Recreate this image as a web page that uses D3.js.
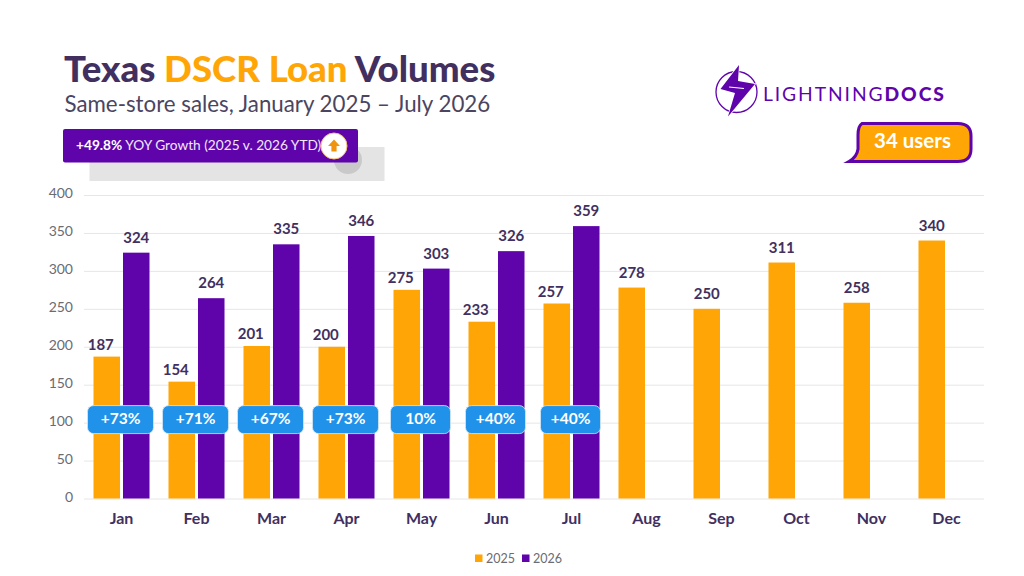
<!DOCTYPE html>
<html>
<head>
<meta charset="utf-8">
<script src="https://cdn.jsdelivr.net/npm/d3@7"></script>
<style>
  html, body { margin: 0; padding: 0; background: #fff; }
  svg { display: block; }
  svg, svg text { font-family: Lato, sans-serif; }
</style>
</head>
<body>
<svg id="chart" width="1024" height="576"></svg>
<script>
const months = ['Jan', 'Feb', 'Mar', 'Apr', 'May', 'Jun', 'Jul', 'Aug', 'Sep', 'Oct', 'Nov', 'Dec'];
const values2025 = [187, 154, 201, 200, 275, 233, 257, 278, 250, 311, 258, 340];
const values2026 = [324, 264, 335, 346, 303, 326, 359];
const growthLabels = ['+73%', '+71%', '+67%', '+73%', '10%', '+40%', '+40%'];
const yTicks = [0, 50, 100, 150, 200, 250, 300, 350, 400];

const ORANGE = '#ffa505';
const PURPLE = '#5f03ab';
const DARK = '#41305f';
const BLUE = '#2092ea';

const svg = d3.select('#chart');
const x = d3.scaleBand().domain(months).range([84, 984]);
const y = d3.scaleLinear().domain([0, 400]).range([498.5, 195]);

// grid + y labels
const yAxis = svg.append('g')
  .attr('transform', 'translate(84,0)')
  .call(d3.axisLeft(y).tickValues(yTicks).tickSize(-900).tickPadding(11));
yAxis.attr('font-family', null);
yAxis.select('.domain').remove();
yAxis.selectAll('line').attr('stroke', '#e6e6e9');
yAxis.selectAll('text').attr('fill', '#6b6b72').attr('font-size', 14).attr('dy', '0.2em');

const barW = 26.5;
const center = (m) => x(m) + x.bandwidth() / 2;

svg.append('g').selectAll('rect').data(values2025).enter().append('rect')
  .attr('x', (d, i) => center(months[i]) - barW - 1.5)
  .attr('y', (d) => y(d))
  .attr('width', barW)
  .attr('height', (d) => y(0) - y(d))
  .attr('fill', ORANGE);

svg.append('g').selectAll('rect').data(values2026).enter().append('rect')
  .attr('x', (d, i) => center(months[i]) + 1.5)
  .attr('y', (d) => y(d))
  .attr('width', barW)
  .attr('height', (d) => y(0) - y(d))
  .attr('fill', PURPLE);

// value labels
const labelStyle = (sel) => sel
  .attr('text-anchor', 'middle')
  .attr('font-size', 15)
  .attr('font-weight', 700)
  .attr('fill', DARK);

// paired 2025 labels sit a bit left of their bars so they clear the 2026 bar
svg.append('g').selectAll('text').data(values2025).enter().append('text')
  .attr('x', (d, i) => center(months[i]) - barW / 2 - 1.5 - (i < values2026.length ? 6 : 0))
  .attr('y', (d, i) => y(d) - (i < values2026.length ? 7 : 10))
  .text((d) => d)
  .call(labelStyle);

svg.append('g').selectAll('text').data(values2026).enter().append('text')
  .attr('x', (d, i) => center(months[i]) + barW / 2 + 1.5)
  .attr('y', (d) => y(d) - 10)
  .text((d) => d)
  .call(labelStyle);

// growth pills
const pillW = (i) => (i < 4 ? 66 : 60);
const pills = svg.append('g').selectAll('g').data(growthLabels).enter().append('g')
  .attr('transform', (d, i) => `translate(${center(months[i]) - 1},${y(104)})`);
pills.append('rect')
  .attr('x', (d, i) => -pillW(i) / 2).attr('y', -14)
  .attr('width', (d, i) => pillW(i)).attr('height', 28).attr('rx', 6)
  .attr('fill', BLUE).attr('stroke', '#d5e9f8').attr('stroke-width', 0.8);
pills.append('text')
  .attr('text-anchor', 'middle').attr('y', 4)
  .attr('font-size', 15.5).attr('font-weight', 700).attr('fill', '#fff')
  .text((d) => d);

// month labels
const xAxis = svg.append('g')
  .attr('transform', `translate(0,${y(0)})`)
  .call(d3.axisBottom(x).tickSize(0).tickPadding(14));
xAxis.attr('font-family', null);
xAxis.select('.domain').remove();
xAxis.selectAll('text').attr('fill', DARK).attr('font-size', 16).attr('font-weight', 700);

// legend
const legend = svg.append('g').attr('transform', 'translate(475,553)');
legend.append('rect').attr('width', 7.5).attr('height', 7.5).attr('y', 1.5).attr('fill', ORANGE);
legend.append('text').attr('x', 11).attr('y', 9.5).attr('font-size', 12.5).attr('fill', '#6b6b72').text('2025');
legend.append('rect').attr('x', 47).attr('y', 1.5).attr('width', 7.5).attr('height', 7.5).attr('fill', PURPLE);
legend.append('text').attr('x', 58).attr('y', 9.5).attr('font-size', 12.5).attr('fill', '#6b6b72').text('2026');

// title block
const title = svg.append('text').attr('x', 64).attr('y', 82)
  .attr('font-size', 36.6).attr('font-weight', 900).attr('fill', DARK);
title.append('tspan').text('Texas ');
title.append('tspan').attr('fill', ORANGE).text('DSCR Loan');
title.append('tspan').text(' Volumes');

svg.append('text').attr('x', 64.5).attr('y', 112)
  .attr('font-size', 22.3).attr('fill', '#4b4560')
  .text('Same-store sales, January 2025 – July 2026');

// growth banner with its grey shadow strip
svg.append('rect').attr('x', 89.5).attr('y', 147).attr('width', 295).attr('height', 34).attr('fill', '#e4e4e4');
svg.append('circle').attr('cx', 348).attr('cy', 160).attr('r', 14).attr('fill', '#c9c9c9');
svg.append('rect').attr('x', 63).attr('y', 129).attr('width', 295).attr('height', 33.5).attr('rx', 2).attr('fill', PURPLE);
const banner = svg.append('text').attr('x', 76).attr('y', 150).attr('font-size', 13.7).attr('fill', '#f1e8fa');
banner.append('tspan').attr('font-weight', 700).attr('fill', '#fff').text('+49.8%');
banner.append('tspan').text(' YOY Growth (2025 v. 2026 YTD)');
svg.append('circle').attr('cx', 334).attr('cy', 146).attr('r', 13).attr('fill', '#fff').attr('stroke', '#f4c27c').attr('stroke-width', 1);
svg.append('path').attr('d', 'M334 139.5l6 6.5h-3.4v5.5h-5.2V146H328z').attr('fill', '#f0930f');

// logo
const logo = svg.append('g');
logo.append('circle').attr('cx', 736.5).attr('cy', 92).attr('r', 20.5)
  .attr('fill', 'none').attr('stroke', PURPLE).attr('stroke-width', 1.3);
logo.append('path')
  .attr('d', 'M739 65L720.5 89L735 93L728 116.5L755 84L738 81z')
  .attr('fill', PURPLE).attr('stroke', '#fff').attr('stroke-width', 1.5).attr('paint-order', 'stroke');
logo.append('path').attr('d', 'M729 87L744 88.5').attr('stroke', '#fff').attr('stroke-width', 1.2);
const logoText = svg.append('text').attr('x', 763).attr('y', 100.5)
  .attr('font-size', 19.3).attr('letter-spacing', 1.9).attr('fill', PURPLE);
logoText.append('tspan').text('LIGHTNING');
logoText.append('tspan').attr('font-weight', 900).text('DOCS');

// users callout
svg.append('path')
  .attr('d', 'M862 123.5H958Q971 123.5 971 136V149Q971 161.5 958 161.5H849Q857 157 858 149V135Q858 126 862 123.5z')
  .attr('fill', ORANGE).attr('stroke', PURPLE).attr('stroke-width', 3);
svg.append('text').attr('x', 912.5).attr('y', 147.5)
  .attr('text-anchor', 'middle').attr('font-size', 20.5).attr('font-weight', 700).attr('fill', '#fff')
  .text('34 users');
</script>
</body>
</html>
